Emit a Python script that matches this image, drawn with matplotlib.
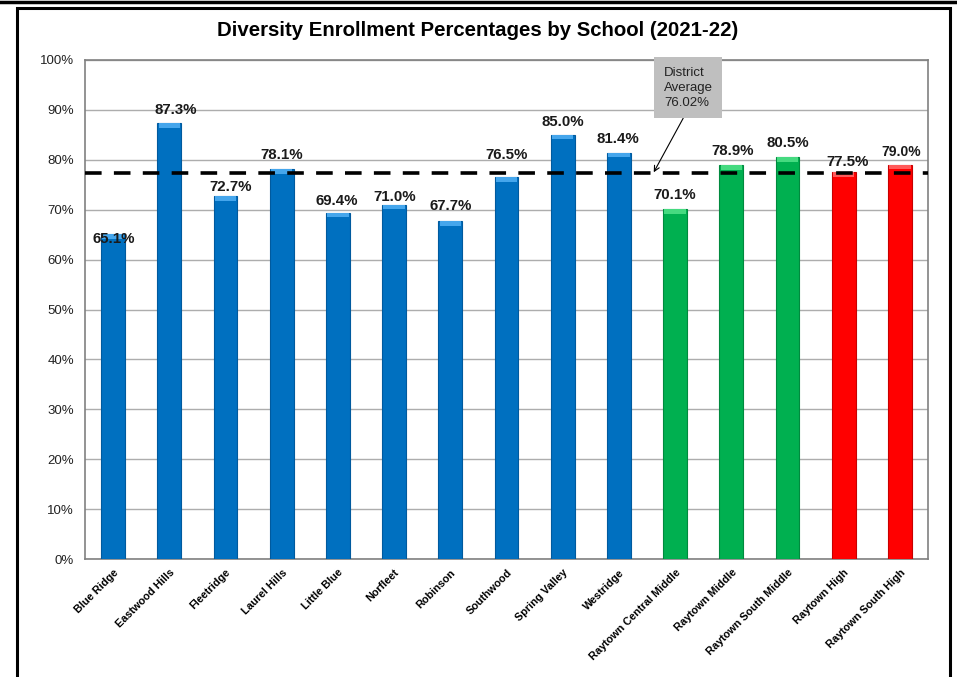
import numpy as np
import matplotlib
matplotlib.use("Agg")
import matplotlib.pyplot as plt
from matplotlib.lines import Line2D

# data
schools = ["Blue Ridge", "Eastwood Hills", "Fleetridge", "Laurel Hills", "Little Blue",
           "Norfleet", "Robinson", "Southwood", "Spring Valley", "Westridge",
           "Raytown Central Middle", "Raytown Middle", "Raytown South Middle",
           "Raytown High", "Raytown South High"]
pct = [65.1, 87.3, 72.7, 78.1, 69.4, 71.0, 67.7, 76.5, 85.0, 81.4,
       70.1, 78.9, 80.5, 77.5, 79.0]
level = ["elem"] * 10 + ["middle"] * 3 + ["high"] * 2
district_avg = 76.02
avg_line = 77.3   # where the dashed line is actually drawn

colors = {"elem": "#0070C0", "middle": "#00B050", "high": "#FF0000"}
tops = {"elem": "#45A6EC", "middle": "#45DA80", "high": "#FF5A5A"}
edges = {"elem": "#005A9E", "middle": "#008A3E", "high": "#C80000"}

plt.rcParams['font.family'] = ['Liberation Sans', 'DejaVu Sans']

fig = plt.figure(figsize=(9.57, 6.77), dpi=100)
W, H = 957.0, 677.0
ax = fig.add_axes([85 / W, 1 - 559 / H, 843 / W, 499 / H])

x = np.arange(len(schools))
bw = 0.42
ax.bar(x, pct, width=bw, color=[colors[l] for l in level],
       edgecolor=[edges[l] for l in level], linewidth=0.8, zorder=3)
# light bevel on top of each bar
ax.bar(x, [0.9] * len(x), bottom=np.array(pct) - 0.9, width=bw - 0.04,
       color=[tops[l] for l in level], linewidth=0, zorder=4)

ax.set_xlim(-0.5, len(schools) - 0.5)
ax.set_ylim(0, 100)
ax.set_yticks(np.arange(0, 101, 10))
ax.set_yticklabels(["%d%%" % v for v in range(0, 101, 10)], fontsize=9.5, color='#222222')
ax.yaxis.grid(True, color="#ADADAD", linewidth=1.0, zorder=0)
ax.tick_params(axis='both', length=0, pad=8)
ax.tick_params(axis='x', pad=6)
ax.set_xticks(x)
ax.set_xticklabels(schools, rotation=45, ha='right', va='top',
                   rotation_mode='anchor', fontsize=7.8, fontweight='bold')
for s in ax.spines.values():
    s.set_color("#808080")
    s.set_linewidth(1.2)

# data labels (pixel nudges to match the original placement)
nudge_y = [-5, 13, 9, 14, 12, 8, 15, 22, 13, 14, 14, 14, 14, 10, 13]
nudge_x = [1, 6, 5, 0, -1, 1, 0, 0, 0, -1, 0, 1, 0, 4, 1]
for i, v in enumerate(pct):
    fs = 10 if i == len(pct) - 1 else 10.8
    ax.annotate("%.1f%%" % v, (x[i], v), xytext=(nudge_x[i] * 0.72, nudge_y[i] * 0.72),
                textcoords='offset points', ha='center', va='center',
                fontsize=fs, fontweight='bold', color='#1a1a1a', zorder=6)

ax.axhline(avg_line, color='black', linewidth=2.6, dashes=(4.6, 3.4), zorder=5)

ax.annotate("District\nAverage\n%.2f%%" % district_avg, xy=(9.62, avg_line + 0.2),
            xytext=(9.8, 98.6), ha='left', va='top', fontsize=9.5,
            linespacing=1.32, color='#222222',
            bbox=dict(boxstyle='square,pad=0.72', fc='#BFBFBF', ec='none'),
            arrowprops=dict(arrowstyle='->', color='black', lw=0.8,
                            relpos=(0.5, 0), shrinkA=0, shrinkB=0),
            zorder=7)

fig.text(478 / W, 1 - 30 / H, "Diversity Enrollment Percentages by School (2021-22)",
         ha='center', va='center', fontsize=14.7, fontweight='bold',
         family=['Liberation Sans Narrow', 'Liberation Sans', 'DejaVu Sans'])

# outer frame lines
fig.add_artist(Line2D([0, 1], [1 - 2 / H, 1 - 2 / H], transform=fig.transFigure,
                      color='black', linewidth=2.5))
fig.add_artist(Line2D([17 / W, 17 / W, 950 / W, 950 / W], [0, 1 - 7.5 / H, 1 - 7.5 / H, 0],
                      transform=fig.transFigure, color='black', linewidth=2.2,
                      solid_joinstyle='miter'))

fig.savefig("out.png", dpi=100)
